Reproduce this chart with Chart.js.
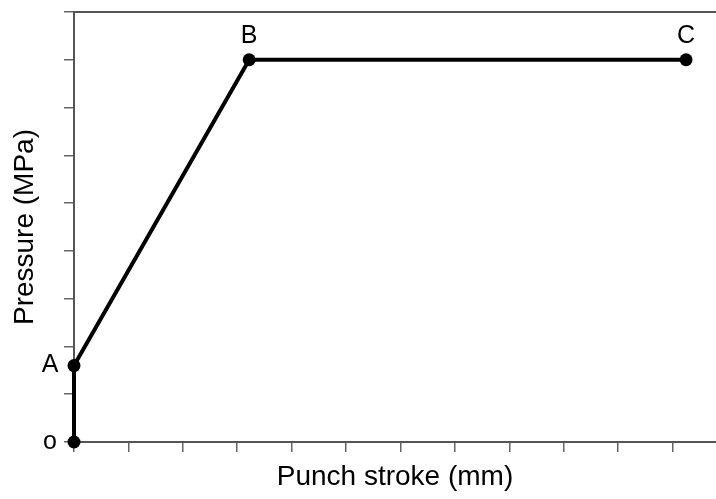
<!DOCTYPE html>
<html>
<head>
<meta charset="utf-8">
<script src="https://cdn.jsdelivr.net/npm/chart.js@4"></script>
<style>
  body { margin: 0; background: #fff; }
  #wrap { width: 716px; height: 499px; }
</style>
</head>
<body>
<div id="wrap"><canvas id="myChart"></canvas></div>
<script>
// data (axes carry no numbers, units are tick steps)
var pointNames = ['o', 'A', 'B', 'C'];
var strokeVals = [0, 0, 3.22, 11.25];
var pressureVals = [0, 1.6, 8, 8];
var xMax = 11.8;
var yMax = 9;

var labelSide = ['left', 'left', 'top', 'top'];

const pointLabels = {
    id: 'pointLabels',
    afterDatasetsDraw(chart) {
        const ctx = chart.ctx;
        const meta = chart.getDatasetMeta(0);
        ctx.save();
        ctx.font = '25px "Liberation Sans", Arial, sans-serif';
        ctx.fillStyle = '#000';
        ctx.textAlign = 'center';
        ctx.textBaseline = 'middle';
        meta.data.forEach((pt, i) => {
            let x = pt.x, y = pt.y;
            if (labelSide[i] == 'left') x -= 24;
            else y -= 24;
            ctx.fillText(pointNames[i], x, y);
        });
        ctx.restore();
    }
};

const pts = [];
for (let i = 0; i < strokeVals.length; i++) {
    pts.push({ x: strokeVals[i], y: pressureVals[i] });
}

const axisFont = { family: '"Liberation Sans", Arial, sans-serif', size: 28 };

const config = {
    type: 'line',
    data: {
        datasets: [{
            data: pts,
            borderColor: '#000',
            backgroundColor: '#000',
            borderWidth: 4,
            pointRadius: 6.5,
            pointBackgroundColor: '#000',
            pointBorderWidth: 0,
            tension: 0,
            clip: false
        }]
    },
    options: {
        responsive: true,
        maintainAspectRatio: false,
        animation: false,
        layout: { autoPadding: false, padding: { top: 12, right: 0, left: 0, bottom: 0 } },
        plugins: { legend: { display: false }, tooltip: { enabled: false } },
        scales: {
            x: {
                type: 'linear',
                position: 'bottom',
                min: 0,
                max: xMax,
                ticks: { display: false, stepSize: 1, includeBounds: false },
                grid: { drawOnChartArea: false, drawTicks: true, tickLength: 10, color: '#666', lineWidth: 1.5 },
                border: { color: '#555', width: 2 },
                title: { display: true, text: 'Punch stroke (mm)', color: '#000', font: axisFont, padding: { top: 8.4, bottom: 5 } }
            },
            x2: {
                type: 'linear',
                position: 'top',
                min: 0,
                max: xMax,
                ticks: { display: false },
                grid: { drawOnChartArea: false, drawTicks: false },
                border: { color: '#555', width: 2 }
            },
            y: {
                min: 0,
                max: yMax,
                ticks: { display: false, stepSize: 1 },
                grid: { drawOnChartArea: false, drawTicks: true, tickLength: 10, color: '#666', lineWidth: 1.5 },
                border: { color: '#555', width: 2 },
                title: { display: true, text: 'Pressure (MPa)', color: '#000', font: axisFont, padding: { top: 8, bottom: 22.4 } }
            }
        }
    },
    plugins: [pointLabels]
};

const myChart = new Chart(document.getElementById('myChart'), config);
</script>
</body>
</html>
